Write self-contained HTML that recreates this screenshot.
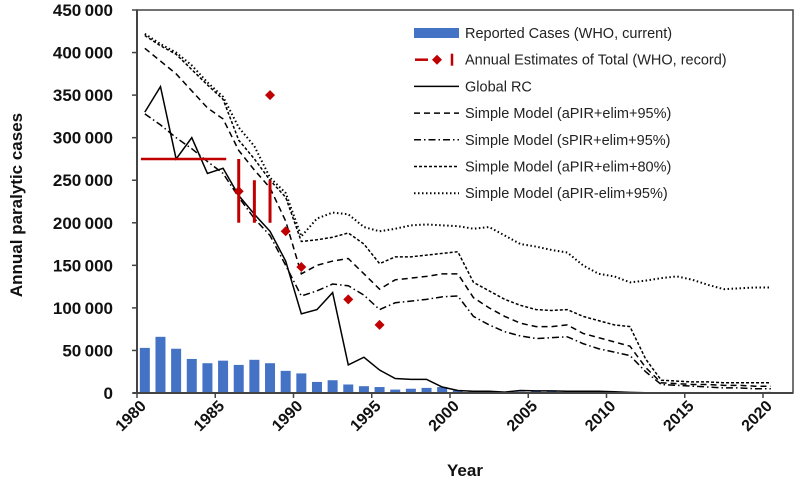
<!DOCTYPE html>
<html><head><meta charset="utf-8"><style>
body{margin:0;background:#fff;}
svg{display:block;font-family:"Liberation Sans",sans-serif;}
</style></head><body>
<svg id="chart" width="797" height="479">
<g id="plot"></g>
</svg>
<script>
const years=[];for(let y=1980;y<=2020;y++)years.push(y);
const reported=[53000,66000,52000,40000,35000,38000,33000,39000,35000,26000,23000,13000,15000,10000,8000,7000,4000,5000,6000,7000,3000,2000,1500,1000,1500,2000,2000,1500,1500,1500,1200,700,300,400,400,100,40,20,30,170,1100];
const globalRC=[330000,360000,275000,300000,258000,264000,232000,210000,190000,155000,93000,98000,118000,33000,42000,27000,17000,16000,16000,7000,3000,2000,2000,1000,3000,2500,2500,2000,2000,2000,1500,700,300,300,300,100,50,20,30,200,500];
const aPIR95=[405000,390000,375000,355000,335000,322000,285000,262000,241000,202000,140000,150000,155000,158000,140000,122000,133000,135000,137000,140000,140000,112000,100000,90000,82000,78000,78000,80000,70000,65000,60000,55000,30000,12000,11000,10000,10000,9000,9000,8000,8000];
const sPIR95=[328000,315000,300000,287000,272000,258000,230000,205000,185000,150000,114000,120000,128000,126000,115000,98000,106000,108000,110000,113000,114000,90000,80000,72000,67000,64000,65000,66000,58000,52000,48000,44000,25000,10000,9000,8000,7000,6000,6000,5000,5000];
const aPIR80=[420000,408000,398000,380000,362000,345000,297000,275000,250000,230000,178000,180000,183000,188000,175000,152000,160000,160000,162000,164000,166000,130000,120000,110000,103000,98000,97000,98000,90000,85000,80000,78000,40000,15000,14000,13000,13000,12000,12000,12000,12000];
const aPIRnoElim=[422000,410000,400000,385000,365000,348000,312000,290000,253000,235000,184000,205000,212000,210000,195000,190000,193000,197000,198000,197000,196000,193000,195000,185000,175000,172000,168000,165000,150000,140000,137000,130000,132000,135000,137000,133000,127000,122000,123000,124000,124000];
const estYears=[1986,1988,1989,1990,1993,1995];
const estValues=[237000,350000,190000,148000,110000,80000];
const errYears=[1986,1987,1988];
const errLow=[200000,200000,200000];
const errHigh=[275000,250000,250000];
const hlineValue=275000;
const yTicks=[0,50000,100000,150000,200000,250000,300000,350000,400000,450000];
const xTicks=[1980,1985,1990,1995,2000,2005,2010,2015,2020];

const NS="http://www.w3.org/2000/svg";
const svg=document.getElementById('chart');
const X0=137,X1=793,Y0=393,Y1=10,PY=15.65;
const xs=y=>X0+(y-1980)*PY;       // axis position of a year boundary
const xc=y=>X0+(y-1980+0.5)*PY;   // category centre
const ys=v=>Y0-(v/450000)*(Y0-Y1);
function mk(tag,attrs,parent){const e=document.createElementNS(NS,tag);for(const k in attrs)e.setAttribute(k,attrs[k]);(parent||svg).appendChild(e);return e;}
const fmt=v=>v===0?'0':String(v).replace(/\B(?=(\d{3})+(?!\d))/g,'\u2009');

// bars
reported.forEach((v,i)=>{const b=mk('rect',{x:xc(years[i])-5,y:ys(v),width:10,height:Y0-ys(v),fill:'#4472c4'});

});

function line(data,dash,name,w){const p=mk('polyline',{points:data.map((v,i)=>xc(years[i])+','+ys(v)).join(' '),fill:'none',stroke:'#000','stroke-width':w||1.5,'stroke-dasharray':dash});

}
line(aPIRnoElim,'1.5 2.5','line-apir-noelim-95',2);
line(aPIR80,'3 2','line-apir-elim-80');
line(aPIR95,'6 4','line-apir-elim-95');
line(sPIR95,'7 3 1.5 3','line-spir-elim-95');
line(globalRC,'','line-global-rc',1.5);

// red estimates
const hl=mk('line',{x1:xs(1980.25),x2:xs(1985.7),y1:ys(hlineValue),y2:ys(hlineValue),stroke:'#c00000','stroke-width':2.5});


errYears.forEach((y,i)=>{const e=mk('line',{x1:xc(y),x2:xc(y),y1:ys(errLow[i]),y2:ys(errHigh[i]),stroke:'#c00000','stroke-width':3});

});
estYears.forEach((y,i)=>{const cx=xc(y),cy=ys(estValues[i]);const d=mk('polygon',{points:`${cx},${cy-5} ${cx+5},${cy} ${cx},${cy+5} ${cx-5},${cy}`,fill:'#c00000'});

});

// frame & axes
mk('rect',{x:X0,y:Y1,width:X1-X0,height:Y0-Y1,fill:'none',stroke:'#444','stroke-width':1.5});
const ya=mk('line',{x1:X0,x2:X0,y1:Y1,y2:Y0,stroke:'#444','stroke-width':2});


const xa=mk('line',{x1:X0-4,x2:X1,y1:Y0,y2:Y0,stroke:'#444','stroke-width':2});


yTicks.forEach(v=>{mk('line',{x1:X0-5,x2:X0,y1:ys(v),y2:ys(v),stroke:'#444','stroke-width':1.5});
const t=mk('text',{x:113,y:ys(v)+6,'text-anchor':'end','font-size':17,'font-weight':'bold',fill:'#111'});t.textContent=fmt(v);

});
xTicks.forEach(y=>{const x=xs(y);mk('line',{x1:x,x2:x,y1:Y0,y2:Y0+5,stroke:'#444','stroke-width':1.5});
const t=mk('text',{x:x+10,y:Y0+14,'text-anchor':'end','font-size':16,'font-weight':'bold',fill:'#111',transform:`rotate(-45 ${x+10} ${Y0+14})`});t.textContent=y;

});
const xt=mk('text',{x:465,y:476,'text-anchor':'middle','font-size':17,'font-weight':'bold',fill:'#111'});xt.textContent='Year';


const yt=mk('text',{x:22,y:205,'text-anchor':'middle','font-size':17,'font-weight':'bold',fill:'#111',transform:'rotate(-90 22 205)'});yt.textContent='Annual paralytic cases';



// legend
const legend=mk('g',{});


const labels=['Reported Cases (WHO, current)','Annual Estimates of Total (WHO, record)','Global RC','Simple Model (aPIR+elim+95%)','Simple Model (sPIR+elim+95%)','Simple Model (aPIR+elim+80%)','Simple Model (aPIR-elim+95%)'];
const dashes=[null,null,'','6 4','7 3 1.5 3','3 2','1.5 2.5'];
labels.forEach((l,i)=>{const cy=33+i*26.7;
if(i===0)mk('rect',{x:414,y:cy-5,width:45,height:10,fill:'#4472c4'},legend);
else if(i===1){mk('line',{x1:415,x2:428,y1:cy,y2:cy,stroke:'#c00000','stroke-width':2.5},legend);mk('polygon',{points:`437,${cy-5} 442,${cy} 437,${cy+5} 432,${cy}`,fill:'#c00000'},legend);mk('line',{x1:452,x2:452,y1:cy-6,y2:cy+6,stroke:'#c00000','stroke-width':2.5},legend);}
else mk('line',{x1:414,x2:459,y1:cy,y2:cy,stroke:'#000','stroke-width':i===6?2:1.5,'stroke-dasharray':dashes[i]},legend);
const t=mk('text',{x:465,y:cy+5,'font-size':14.5,fill:'#222'},legend);t.textContent=l;

});
</script>
</body></html>
